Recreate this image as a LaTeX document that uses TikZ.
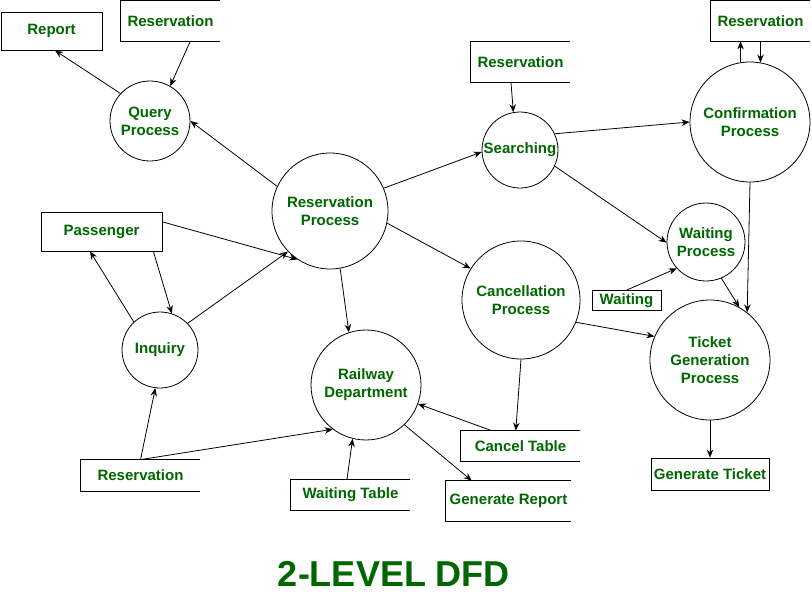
\documentclass[tikz,border=0pt]{standalone}
\usepackage{fontspec}
\setmainfont{Liberation Sans}
\usetikzlibrary{arrows.meta}
\definecolor{dfdgreen}{RGB}{0,102,0}

\tikzset{
  proc/.style={circle, draw, inner sep=0pt, align=center, text=dfdgreen,
    font=\fontsize{15}{18}\selectfont\bfseries},
  ent/.style={rectangle, draw, inner sep=0pt, text=dfdgreen,
    font=\fontsize{15}{18}\selectfont\bfseries},
  store/.style={rectangle, inner sep=0pt, text=dfdgreen,
    font=\fontsize{15}{18}\selectfont\bfseries},
  flow/.style={-{Stealth[length=8pt,width=6.5pt]}}
}

\begin{document}
\begin{tikzpicture}[x=1pt, y=-1pt, line width=0.8pt]
    \useasboundingbox (0,0) rectangle (812,595);

    % processes
    \node[proc, minimum size=80pt] at (150,121) (qp) {Query\\Process};
    \node[proc, minimum size=116pt] at (330,211) (resv) {Reservation\\Process};
    \node[proc, minimum size=76pt] at (520,150) (srch) {Searching};
    \node[proc, minimum size=120pt] at (750,122) (conf) {Confirmation\\Process};
    \node[proc, minimum size=78pt] at (706,242) (wproc) {Waiting\\Process};
    \node[proc, minimum size=118pt] at (521,300) (canc) {Cancellation\\Process};
    \node[proc, minimum size=120pt] at (710,360) (tgen) {Ticket\\Generation\\Process};
    \node[proc, minimum size=76pt] at (160,350) (inq) {Inquiry};
    \node[proc, minimum size=110pt] at (366,385) (rail) {Railway\\Department};

    % external entities
    \node[ent, minimum width=101pt, minimum height=38pt] at (51.5,31) (rep) {Report};
    \node[ent, minimum width=121pt, minimum height=39pt] at (101.5,231.5) (pass) {Passenger};
    \node[ent, minimum width=69pt, minimum height=20pt] at (626.5,300.5) (wait) {Waiting};
    \node[ent, minimum width=118pt, minimum height=32pt] at (710,474) (gtick) {Generate Ticket};

    % data stores
    \node[store, minimum width=99pt, minimum height=40pt] at (170.5,21) (rsvA) {Reservation};
    \node[store, minimum width=99pt, minimum height=40pt] at (520.5,62) (rsvB) {Reservation};
    \node[store, minimum width=99pt, minimum height=40pt] at (760.5,21) (rsvC) {Reservation};
    \node[store, minimum width=119pt, minimum height=31pt] at (140.5,475.5) (rsvD) {Reservation};
    \node[store, minimum width=119pt, minimum height=30pt] at (350.5,495) (wtab) {Waiting Table};
    \node[store, minimum width=119pt, minimum height=30pt] at (520.5,446) (ctab) {Cancel Table};
    \node[store, minimum width=125pt, minimum height=40pt] at (508.5,501) (grep) {Generate Report};
    \foreach \s in {rsvA,rsvB,rsvC,rsvD,wtab,ctab,grep}
        \draw (\s.north east) -- (\s.north west) -- (\s.south west) -- (\s.south east);

    % data flows
    \draw[flow] (qp.137) -- (rep.-80);
    \draw[flow] (rsvA.-46) -- (qp.60);
    \draw[flow] (resv.155) -- (qp.0);
    \draw[flow] (resv.23) -- (srch.183);
    \draw[flow] (rsvB.-115) -- (srch.100);
    \draw[flow] (srch.25) -- (conf.180);
    \draw[flow] (conf.99) -- (conf.99 |- rsvC.south);
    \draw[flow] (conf.80 |- rsvC.south) -- (conf.80);
    \draw[flow] (srch.-25) -- (wproc.181);
    \draw[flow] (conf.270) -- (tgen.52);
    \draw[flow] (wait.north) -- (wproc.-138);
    \draw[flow] (wproc.-67) -- (tgen.61);
    \draw[flow] (resv.-12) -- (canc.148);
    \draw[flow] (canc.-22) -- (tgen.157);
    \draw[flow] (canc.270) -- (ctab.107);
    \draw[flow] (ctab.152) -- (rail.-20);
    \draw[flow] (pass.9) -- (resv.-124);
    \draw[flow] (pass.-21) -- (inq.72);
    \draw[flow] (inq.133) -- (pass.-120);
    \draw[flow] (inq.44) -- (resv.-136);
    \draw[flow] (resv.-80) -- (rail.108);
    \draw[flow] (rsvD.north) -- (inq.-97);
    \draw[flow] (rsvD.north) -- (rail.-127);
    \draw[flow] (wtab.103) -- (rail.-104);
    \draw[flow] (rail.-46) -- (grep.151);
    \draw[flow] (tgen.270) -- (gtick.north);

    \node[font=\fontsize{36}{40}\selectfont\bfseries, text=dfdgreen] at (394,574) (title) {2-LEVEL DFD};
\end{tikzpicture}
\end{document}
